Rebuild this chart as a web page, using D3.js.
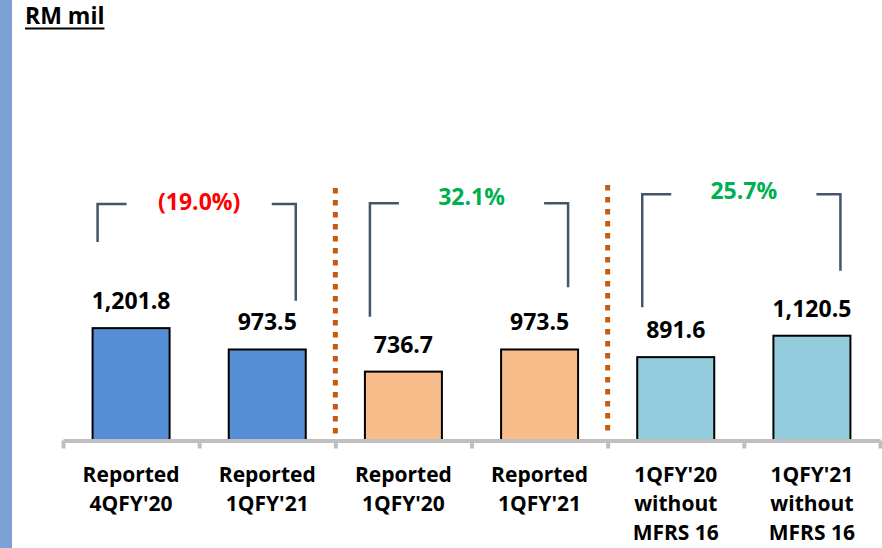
<!DOCTYPE html>
<html>
<head>
<meta charset="utf-8">
<script src="https://cdn.jsdelivr.net/npm/d3@7"></script>
<style>
  html, body { margin: 0; padding: 0; background: #ffffff; }
  svg { display: block; }
  text { font-family: "Open Sans", Lato, "Noto Sans", sans-serif; font-weight: 700; }
</style>
</head>
<body>
<svg id="chart" width="882" height="548"></svg>
<script>
// ---- data ----
const categories = [
  ["Reported", "4QFY'20"],
  ["Reported", "1QFY'21"],
  ["Reported", "1QFY'20"],
  ["Reported", "1QFY'21"],
  ["1QFY'20", "without", "MFRS 16"],
  ["1QFY'21", "without", "MFRS 16"]
];
const values = [1201.8, 973.5, 736.7, 973.5, 891.6, 1120.5];
const valueLabels = ["1,201.8", "973.5", "736.7", "973.5", "891.6", "1,120.5"];
const groupOf = [0, 0, 1, 1, 2, 2];
const groupColors = ["#558ed5", "#f8bc8a", "#93cddd"];

// comparison pairs (from bar, to bar) and their change labels
const pairs = [[0, 1], [2, 3], [4, 5]];
const changeLabels = ["(19.0%)", "32.1%", "25.7%"];
const changeColors = ["#ff0000", "#00b050", "#00b050"];

// ---- layout ----
const svg = d3.select("#chart");
const W = 882, H = 548;
const axisY = 440.5;

// bracket heights, in RM mil units on the value scale
const bracketTop = [2529, 2537, 2633];
const bracketLeftEnd = [2123, 1324, 1425];
const bracketRightEnd = [1495, 1638, 1816];
const changeLabelLevel = [2460, 2524, 2588];

const x = d3.scaleBand()
  .domain(d3.range(values.length))
  .range([63, 880])
  .paddingInner(0.4345)
  .paddingOuter(0.4345 / 2);

const y = d3.scaleLinear()
  .domain([0, 3000])
  .range([axisY, axisY - 280.5]);

// left accent strip
svg.append("rect")
  .attr("x", 0).attr("y", 0)
  .attr("width", 12).attr("height", H)
  .attr("fill", "#7da1d6");

// unit title
const title = svg.append("text")
  .attr("x", 25).attr("y", 24)
  .attr("font-size", 23)
  .attr("fill", "#000")
  .text("RM mil");
const tb = title.node().getBBox();
svg.append("line")
  .attr("x1", tb.x).attr("x2", tb.x + tb.width)
  .attr("y1", 28.5).attr("y2", 28.5)
  .attr("stroke", "#000").attr("stroke-width", 2);

// dotted separators between groups
[2, 4].forEach(i => {
  const sx = x.range()[0] + i * x.step();
  svg.append("line")
    .attr("x1", sx).attr("x2", sx)
    .attr("y1", i === 2 ? 188 : 185).attr("y2", 434)
    .attr("stroke", "#c55a11")
    .attr("stroke-width", 5)
    .attr("stroke-dasharray", "5.5,6.5");
});

// bars
svg.append("g").selectAll("rect")
  .data(values)
  .join("rect")
  .attr("x", (d, i) => x(i))
  .attr("y", d => y(d))
  .attr("width", x.bandwidth())
  .attr("height", d => axisY - y(d))
  .attr("fill", (d, i) => groupColors[groupOf[i]])
  .attr("stroke", "#000")
  .attr("stroke-width", 2);

// category axis with ticks at band edges
const edge = d3.scaleLinear().domain([0, values.length]).range(x.range());
const axisG = svg.append("g")
  .attr("transform", `translate(0,${axisY})`)
  .call(d3.axisBottom(edge)
    .tickValues(d3.range(values.length + 1))
    .tickSize(8)
    .tickSizeOuter(0)
    .tickFormat(""));
axisG.select(".domain").attr("stroke", "#bfbfbf").attr("stroke-width", 4);
axisG.selectAll(".tick line").attr("stroke", "#bfbfbf").attr("stroke-width", 4);

// category labels
svg.append("g").selectAll("text")
  .data(categories)
  .join("text")
  .attr("x", (d, i) => x(i) + x.bandwidth() / 2)
  .attr("y", 481.5)
  .attr("text-anchor", "middle")
  .attr("font-size", 21)
  .attr("fill", "#000")
  .selectAll("tspan")
  .data(d => d)
  .join("tspan")
  .attr("x", function () { return this.parentNode.getAttribute("x"); })
  .attr("dy", (d, j) => j === 0 ? 0 : 29.3)
  .text(d => d);

// value labels
svg.append("g").selectAll("text")
  .data(values)
  .join("text")
  .attr("x", (d, i) => x(i) + x.bandwidth() / 2)
  .attr("y", d => y(d) - 19)
  .attr("text-anchor", "middle")
  .attr("font-size", 23)
  .attr("fill", "#000")
  .text((d, i) => valueLabels[i]);

// change brackets
const bracketColor = "#44546a";
pairs.forEach(([a, b], k) => {
  const lx = x(a) + 5;
  const rx = x(b) + x.bandwidth() - 10;
  const ty = y(bracketTop[k]);
  const g = svg.append("g")
    .attr("fill", "none")
    .attr("stroke", bracketColor)
    .attr("stroke-width", 2.5);
  g.append("path")
    .attr("d", `M${lx},${y(bracketLeftEnd[k])}V${ty}H${lx + 29}`);
  g.append("path")
    .attr("d", `M${rx - 24},${ty}H${rx}V${y(bracketRightEnd[k])}`);
  svg.append("text")
    .attr("x", x.range()[0] + (a + 1) * x.step())
    .attr("y", y(changeLabelLevel[k]))
    .attr("text-anchor", "middle")
    .attr("font-size", 23)
    .attr("fill", changeColors[k])
    .text(changeLabels[k]);
});
</script>
</body>
</html>
